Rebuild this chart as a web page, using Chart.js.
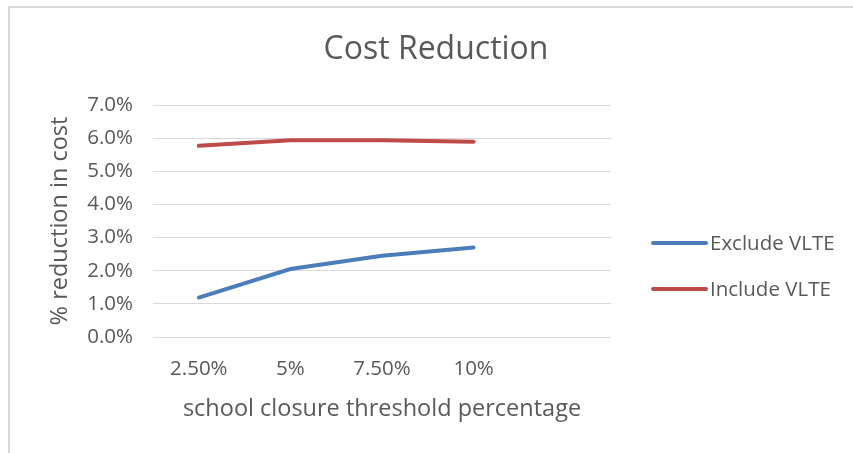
<!DOCTYPE html>
<html>
<head>
<meta charset="utf-8">
<script src="https://cdn.jsdelivr.net/npm/chart.js@4.4.1/dist/chart.umd.min.js"></script>
<style>
    html, body { margin: 0; padding: 0; background: #fff; }
    #wrap { width: 853px; height: 453px; }
</style>
</head>
<body>
<div id="wrap"><canvas id="costChart"></canvas></div>
<script>
var thresholdLabels = ['2.50%', '5%', '7.50%', '10%', ''];
var excludeVLTE = [1.19, 2.05, 2.45, 2.70, null];
var includeVLTE = [5.77, 5.94, 5.94, 5.89, null];
var yTicks = [0, 1, 2, 3, 4, 5, 6, 7];
var chartTitle = 'Cost Reduction';

var textColor = '#595959';
var fontFamily = '"Open Sans", "Noto Sans", sans-serif';

// outer frame of the chart object (left + top edges visible)
var framePlugin = {
    id: 'frame',
    beforeDraw: function (chart) {
        var ctx = chart.ctx;
        ctx.save();
        ctx.fillStyle = '#fff';
        ctx.fillRect(0, 0, chart.width, chart.height);
        ctx.strokeStyle = '#d9d9d9';
        ctx.lineWidth = 2;
        ctx.beginPath();
        ctx.moveTo(9, chart.height);
        ctx.lineTo(9, 7);
        ctx.lineTo(chart.width, 7);
        ctx.stroke();
        ctx.restore();
    }
};

// title centred on the whole chart object, plus legend on the right
var overlay = {
    id: 'overlay',
    afterDraw: function (chart) {
        var ctx = chart.ctx;
        ctx.save();
        ctx.fillStyle = textColor;
        ctx.textAlign = 'center';
        ctx.textBaseline = 'middle';
        ctx.font = '32px ' + fontFamily;
        ctx.fillText(chartTitle, 436, 50);

        var rows = [243, 289];
        ctx.textAlign = 'left';
        ctx.font = '20.5px ' + fontFamily;
        ctx.lineCap = 'round';
        chart.data.datasets.forEach(function (ds, i) {
            var y = rows[i];
            ctx.strokeStyle = ds.borderColor;
            ctx.lineWidth = 4;
            ctx.beginPath();
            ctx.moveTo(653, y);
            ctx.lineTo(706, y);
            ctx.stroke();
            ctx.fillStyle = textColor;
            ctx.fillText(ds.label, 710, y + 1);
        });
        ctx.restore();
    }
};

var chart = new Chart(document.getElementById('costChart'), {
    type: 'line',
    data: {
        labels: thresholdLabels,
        datasets: [{
            label: 'Exclude VLTE',
            data: excludeVLTE,
            borderColor: '#4a7ebb',
            backgroundColor: '#4a7ebb',
            borderWidth: 4,
            borderCapStyle: 'round',
            pointRadius: 0,
            tension: 0
        }, {
            label: 'Include VLTE',
            data: includeVLTE,
            borderColor: '#be4b48',
            backgroundColor: '#be4b48',
            borderWidth: 4,
            borderCapStyle: 'round',
            pointRadius: 0,
            tension: 0
        }]
    },
    options: {
        responsive: true,
        maintainAspectRatio: false,
        animation: false,
        devicePixelRatio: 1,
        layout: {
            padding: { left: 0, right: 242, top: 105, bottom: 0 }
        },
        plugins: {
            legend: { display: false },
            tooltip: { enabled: false },
            title: { display: false }
        },
        scales: {
            x: {
                offset: true,
                afterFit: function (s) { s.height = 116; },
                grid: { display: false, offset: true },
                border: { display: false },
                ticks: {
                    color: textColor,
                    font: { family: fontFamily, size: 20.5 },
                    padding: 12,
                    maxRotation: 0,
                    autoSkip: false
                },
                title: {
                    display: true,
                    text: 'school closure threshold percentage',
                    color: textColor,
                    font: { family: fontFamily, size: 23.5 },
                    padding: { top: 0, bottom: 30 }
                }
            },
            y: {
                min: yTicks[0],
                max: yTicks[yTicks.length - 1],
                afterFit: function (s) { s.width = 153; },
                afterBuildTicks: function (s) {
                    s.ticks = yTicks.map(function (v) { return { value: v }; });
                },
                grid: { color: '#d9d9d9', lineWidth: 1, drawTicks: false },
                border: { display: false },
                ticks: {
                    color: textColor,
                    font: { family: fontFamily, size: 20.5 },
                    padding: 20,
                    callback: function (v) { return v.toFixed(1) + '%'; }
                },
                title: {
                    display: true,
                    text: '% reduction in cost',
                    color: textColor,
                    font: { family: fontFamily, size: 23.5 },
                    padding: { top: 46, bottom: 0 }
                }
            }
        }
    },
    plugins: [framePlugin, overlay]
});
</script>
</body>
</html>
